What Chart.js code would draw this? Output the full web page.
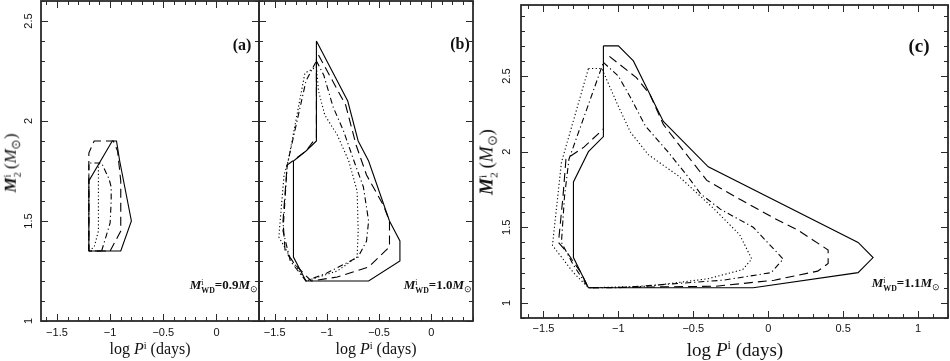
<!DOCTYPE html>
<html>
<head>
<meta charset="utf-8">
<script src="https://cdn.jsdelivr.net/npm/chart.js@4/dist/chart.umd.min.js"></script>
<style>
html, body { margin: 0; padding: 0; background: #fff; }
#wrap { position: relative; width: 950px; height: 361px; overflow: hidden; }
#wrap canvas { position: absolute; top: 0; }
.t { position: absolute; font-family: "Liberation Serif", "Times New Roman", serif; color: #111; white-space: nowrap; line-height: 1; }
.ss { display: inline-block; vertical-align: -0.45em; font-size: 0.6em; line-height: 0.95; text-align: left; }
.ss span { display: block; }
.rot { transform: translate(-50%, -50%) rotate(-90deg); }
.ctr { transform: translate(-50%, -50%); }
sub { font-size: 0.7em; vertical-align: -0.3em; }
sup { font-size: 0.65em; vertical-align: 0.55em; }
.lab b { font-weight: bold; }
</style>
</head>
<body>
<div id="wrap">
  <canvas id="chartA" width="260" height="361" style="left:0"></canvas>
  <canvas id="chartB" width="230" height="361" style="left:250px"></canvas>
  <canvas id="chartC" width="450" height="361" style="left:500px"></canvas>

  <div class="t rot" style="left:12px; top:163px; font-size:17px;"><b><i>M</i></b><span class="ss"><span>i</span><span>2</span></span>&thinsp;(<i>M</i><sub>⊙</sub>)</div>
  <div class="t rot" style="left:488px; top:162px; font-size:19px;"><b><i>M</i></b><span class="ss"><span>i</span><span>2</span></span>&thinsp;(<i>M</i><sub>⊙</sub>)</div>

  <div class="t ctr" style="left:150px; top:349px; font-size:16px;">log <i>P</i><sup>i</sup> (days)</div>
  <div class="t ctr" style="left:376px; top:349px; font-size:16px;">log <i>P</i><sup>i</sup> (days)</div>
  <div class="t ctr" style="left:735px; top:349px; font-size:19px;">log <i>P</i><sup>i</sup> (days)</div>

  <div class="t ctr" style="left:242px; top:45px; font-size:16px; font-weight:bold;">(a)</div>
  <div class="t ctr" style="left:460px; top:44px; font-size:16px; font-weight:bold;">(b)</div>
  <div class="t ctr" style="left:919px; top:45px; font-size:19px; font-weight:bold;">(c)</div>

  <div class="t lab" style="right:692px; top:278px; font-size:13px;"><b><i>M</i></b><span class="ss"><span>i</span><span><b>WD</b></span></span><b>=0.9<i>M</i></b><sub>⊙</sub></div>
  <div class="t lab" style="right:478px; top:278px; font-size:13px;"><b><i>M</i></b><span class="ss"><span>i</span><span><b>WD</b></span></span><b>=1.0<i>M</i></b><sub>⊙</sub></div>
  <div class="t lab" style="right:10px; top:276px; font-size:13px;"><b><i>M</i></b><span class="ss"><span>i</span><span><b>WD</b></span></span><b>=1.1<i>M</i></b><sub>⊙</sub></div>
</div>

<script>
// tick labels
const xTicksAB = [-1.5, -1, -0.5, 0];
const xTicksC = [-1.5, -1, -0.5, 0, 0.5, 1];
const yTicksAB = [1, 1.5, 2, 2.5];
const yTicksC = [1, 1.5, 2, 2.5];

// panel (a), M_WD = 0.9
const aSolidP = [-1.2, -1.2, -0.98, -0.94, -0.91, -0.8, -0.9, -1.2];
const aSolidM = [1.35, 1.7, 1.9, 1.9, 1.8, 1.5, 1.35, 1.35];
const aDashP = [-1.0, -0.9, -0.9, -0.93, -0.97, -1.15, -1.2, -1.2, -1.0];
const aDashM = [1.35, 1.45, 1.7, 1.85, 1.9, 1.9, 1.84, 1.35, 1.35];
const aDdP = [-1.08, -1.0, -0.99, -0.99, -1.01, -1.08, -1.2, -1.2, -1.08];
const aDdM = [1.35, 1.49, 1.6, 1.67, 1.71, 1.79, 1.79, 1.35, 1.35];
const aDotP = [-1.2, -1.15, -1.11, -1.11, -1.1];
const aDotM = [1.35, 1.37, 1.45, 1.77, 1.79];

// panel (b), M_WD = 1.0
const bSolidP = [-1.1, -0.8, -0.7, -0.6, -0.4, -0.3, -0.3, -0.6, -1.2, -1.32, -1.32, -1.2, -1.1, -1.1];
const bSolidM = [2.4, 2.1, 1.9, 1.8, 1.5, 1.4, 1.3, 1.2, 1.2, 1.32, 1.8, 1.85, 1.9, 2.4];
const bDashP = [-1.08, -0.82, -0.72, -0.62, -0.46, -0.4, -0.4, -0.6, -0.9, -1.15, -1.3, -1.4, -1.42, -1.38, -1.2, -1.1, -1.1];
const bDashM = [2.33, 2.08, 1.88, 1.73, 1.58, 1.5, 1.37, 1.27, 1.22, 1.2, 1.28, 1.35, 1.5, 1.78, 1.85, 1.92, 2.33];
const bDdP = [-1.1, -1.03, -0.94, -0.84, -0.74, -0.65, -0.6, -0.62, -0.7, -1.0, -1.2, -1.35, -1.42, -1.38, -1.2, -1.1];
const bDdM = [2.3, 2.23, 2.07, 1.95, 1.8, 1.67, 1.5, 1.4, 1.32, 1.24, 1.2, 1.3, 1.45, 1.78, 2.2, 2.3];
const bDotP = [-1.1, -1.08, -1.02, -0.9, -0.79, -0.71, -0.7, -0.71, -0.9, -1.2, -1.33, -1.46, -1.41, -1.37, -1.21, -1.1];
const bDotM = [2.27, 2.15, 2.03, 1.93, 1.8, 1.65, 1.45, 1.32, 1.25, 1.2, 1.3, 1.42, 1.73, 1.8, 2.24, 2.27];

// panel (c), M_WD = 1.1
const cSolidP = [-1.1, -1.0, -0.9, -0.7, -0.4, 0.6, 0.7, 0.6, -0.1, -1.2, -1.3, -1.3, -1.2, -1.1, -1.1];
const cSolidM = [2.7, 2.7, 2.6, 2.2, 1.9, 1.4, 1.3, 1.2, 1.1, 1.1, 1.3, 1.8, 2.0, 2.1, 2.7];
const cDashP = [-1.06, -0.88, -0.79, -0.7, -0.56, -0.41, -0.18, 0.04, 0.2, 0.4, 0.4, 0.33, 0.04, -0.35, -1.2, -1.25, -1.34, -1.4, -1.37, -1.35, -1.23, -1.1];
const cDashM = [2.63, 2.49, 2.38, 2.18, 2.0, 1.81, 1.68, 1.56, 1.48, 1.35, 1.26, 1.21, 1.15, 1.11, 1.1, 1.2, 1.33, 1.4, 1.7, 1.95, 2.03, 2.15];
const cDdP = [-1.1, -1.0, -0.92, -0.82, -0.67, -0.54, -0.45, -0.32, -0.1, 0.1, 0.02, -0.3, -1.0, -1.2, -1.3, -1.38, -1.36, -1.33, -1.1];
const cDdM = [2.59, 2.5, 2.36, 2.17, 2.0, 1.84, 1.72, 1.62, 1.5, 1.29, 1.2, 1.15, 1.1, 1.1, 1.25, 1.4, 1.7, 1.95, 2.59];
const cDotP = [-1.2, -1.11, -1.08, -1.0, -0.92, -0.8, -0.6, -0.36, -0.19, -0.11, -0.17, -0.4, -0.8, -1.2, -1.3, -1.44, -1.38, -1.2];
const cDotM = [2.55, 2.55, 2.48, 2.3, 2.13, 1.98, 1.84, 1.62, 1.45, 1.29, 1.22, 1.16, 1.11, 1.1, 1.2, 1.38, 1.93, 2.55];

const SOLID = [];
const DASH = [9, 5];
const DASHDOT = [6, 3, 1.2, 3];
const DOT = [1.2, 2.4];

const fmt = v => (v < 0 ? "\u2212" + Math.abs(v) : String(v));

// frame with inward major / minor ticks on all four sides
const frameTicks = {
  id: "frameTicks",
  afterDraw(chart) {
    const { ctx, chartArea: a, scales: { x, y } } = chart;
    ctx.save();
    ctx.strokeStyle = "#2a2a2a";
    ctx.lineWidth = 1;
    ctx.beginPath();
    for (let k = Math.ceil(x.min * 10 - 1e-6); k <= Math.floor(x.max * 10 + 1e-6); k++) {
      const px = Math.round(x.getPixelForValue(k / 10)) + 0.5;
      const len = k % 5 === 0 ? 7 : 4;
      ctx.moveTo(px, a.bottom); ctx.lineTo(px, a.bottom - len);
      ctx.moveTo(px, a.top); ctx.lineTo(px, a.top + len);
    }
    for (let k = Math.ceil(y.min * 10 - 1e-6); k <= Math.floor(y.max * 10 + 1e-6); k++) {
      const py = Math.round(y.getPixelForValue(k / 10)) + 0.5;
      const len = k % 5 === 0 ? 7 : 4;
      ctx.moveTo(a.left, py); ctx.lineTo(a.left + len, py);
      ctx.moveTo(a.right, py); ctx.lineTo(a.right - len, py);
    }
    ctx.stroke();
    ctx.lineWidth = 1.8;
    ctx.strokeRect(a.left, a.top, a.right - a.left, a.bottom - a.top);
    ctx.restore();
  }
};

function curve(xs, ys, dash) {
  return {
    data: xs.map((v, i) => ({ x: v, y: ys[i] })),
    showLine: true,
    borderColor: "#000",
    borderWidth: 1.1,
    borderDash: dash,
    pointRadius: 0,
    fill: false,
    tension: 0
  };
}

function panel(id, sets, cfg) {
  new Chart(document.getElementById(id), {
    type: "scatter",
    data: { datasets: sets },
    options: {
      responsive: false,
      animation: false,
      events: [],
      layout: { padding: cfg.pad },
      plugins: { legend: { display: false }, tooltip: { enabled: false } },
      scales: {
        x: {
          type: "linear", min: cfg.xr[0], max: cfg.xr[1],
          grid: { display: false, drawTicks: false },
          border: { display: false },
          afterBuildTicks: s => { s.ticks = cfg.xt.map(v => ({ value: v })); },
          afterFit: s => { s.height = cfg.xh; s.paddingLeft = 0; s.paddingRight = 0; },
          ticks: {
            autoSkip: false, maxRotation: 0, minRotation: 0, padding: cfg.xpad,
            color: "#111", font: { family: "Liberation Sans", size: 11 },
            callback: v => fmt(v)
          }
        },
        y: {
          type: "linear", min: cfg.yr[0], max: cfg.yr[1],
          display: cfg.yLabels,
          grid: { display: false, drawTicks: false },
          border: { display: false },
          afterBuildTicks: s => { s.ticks = cfg.yt.map(v => ({ value: v })); },
          afterFit: s => { s.width = cfg.yw; s.paddingTop = 0; s.paddingBottom = 0; },
          ticks: {
            autoSkip: false, minRotation: 90, maxRotation: 90, crossAlign: "center",
            padding: cfg.ypad, color: "#111", font: { family: "Liberation Sans", size: 11 },
            callback: v => fmt(v)
          }
        }
      }
    },
    plugins: [frameTicks]
  });
}

panel("chartA", [
  curve(aSolidP, aSolidM, SOLID),
  curve(aDashP, aDashM, DASH),
  curve(aDdP, aDdM, DASHDOT),
  curve(aDotP, aDotM, DOT)
], { xr: [-1.65, 0.4], yr: [1, 2.6], xt: xTicksAB, yt: yTicksAB, pad: { left: 0, right: 1, top: 1, bottom: 0 },
     xh: 40, yw: 41, xpad: 5, ypad: 4.5, yLabels: true });

panel("chartB", [
  curve(bSolidP, bSolidM, SOLID),
  curve(bDashP, bDashM, DASH),
  curve(bDdP, bDdM, DASHDOT),
  curve(bDotP, bDotM, DOT)
], { xr: [-1.65, 0.4], yr: [1, 2.6], xt: xTicksAB, yt: yTicksAB, pad: { left: 9, right: 7, top: 1, bottom: 0 },
     xh: 40, yw: 0, xpad: 5, ypad: 4, yLabels: false });

panel("chartC", [
  curve(cSolidP, cSolidM, SOLID),
  curve(cDashP, cDashM, DASH),
  curve(cDdP, cDdM, DASHDOT),
  curve(cDotP, cDotM, DOT)
], { xr: [-1.65, 1.2], yr: [0.9, 2.97], xt: xTicksC, yt: yTicksC, pad: { left: 0, right: 2, top: 5, bottom: 0 },
     xh: 43, yw: 21, xpad: 4, ypad: 6.5, yLabels: true });
</script>
</body>
</html>
